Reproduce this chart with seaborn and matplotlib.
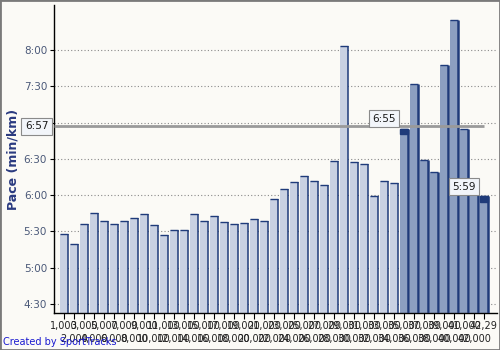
import numpy as np
import pandas as pd
import matplotlib
matplotlib.use("Agg")
import matplotlib.pyplot as plt
import seaborn as sns
from matplotlib.ticker import FuncFormatter, FixedLocator
from matplotlib.patches import Rectangle

# ---- data ----
split_labels = ["1,000", "2,000", "3,000", "4,000", "5,000", "6,000", "7,000", "8,000",
                "9,000", "10,000", "11,000", "12,000", "13,000", "14,000", "15,000",
                "16,000", "17,000", "18,000", "19,000", "20,000", "21,000", "22,000",
                "23,000", "24,000", "25,000", "26,000", "27,000", "28,000", "29,000",
                "30,000", "31,000", "32,000", "33,000", "34,000", "35,000", "36,000",
                "37,000", "38,000", "39,000", "40,000", "41,000", "42,000", "42,29"]
pace_text = ["5:28", "5:20", "5:36", "5:45", "5:39", "5:36", "5:39", "5:41", "5:44",
             "5:35", "5:27", "5:31", "5:31", "5:44", "5:39", "5:43", "5:38", "5:36",
             "5:37", "5:40", "5:39", "5:57", "6:05", "6:11", "6:16", "6:12", "6:08",
             "6:28", "8:03", "6:27", "6:26", "5:59", "6:12", "6:10", "6:55", "7:32",
             "6:29", "6:19", "7:48", "8:25", "6:55", "6:02", "5:59"]
segment = ["normal"] * 34 + ["selected"] * 9
y_tick_text = ["4:30", "5:00", "5:30", "6:00", "6:30", "7:00", "7:30", "8:00"]
avg_text = "6:57"
callout_bars = [34, 42]          # bars carrying a pace call-out
marked_bars = [34, 42]           # bars with a dark cap


def to_min(s):
    m, sec = s.split(":")
    return int(m) + int(sec) / 60.0


def fmt(v, pos=None):
    total = int(round(v * 60))
    return f"{total // 60}:{total % 60:02d}"


pace = [to_min(s) for s in pace_text]
avg_pace = to_min(avg_text)
df = pd.DataFrame({"split": split_labels, "pace": pace, "segment": segment})

# ---- figure ----
sns.set_theme(style="white")
plt.rcParams["font.family"] = ["DejaVu Sans"]
bg = "#fbfaf6"
fig = plt.figure(figsize=(5, 3.5), dpi=100, facecolor=bg)
ax = fig.add_axes([0.108, 0.1057, 0.886, 0.88])
ax.set_facecolor(bg)

sns.barplot(data=df, x="split", y="pace", hue="segment", order=split_labels,
            palette={"normal": "#c9d1e2", "selected": "#8c9fc1"}, dodge=False,
            width=0.75, saturation=1, linewidth=0, legend=False, ax=ax, zorder=2)

ymin, ymax = 4.376, 8.62
ax.set_ylim(ymin, ymax)
ax.set_xlim(-1.0, len(split_labels) + 0.3)

edge = "#1f3b7a"
bars = sorted([p for p in ax.patches if np.isfinite(p.get_height()) and p.get_height() > 0],
              key=lambda p: p.get_x())
for i, p in enumerate(bars):
    x0 = p.get_x()
    x1 = x0 + p.get_width()
    top = p.get_y() + p.get_height()
    sel = segment[i] == "selected"
    ax.plot([x0, x1], [top, top], color=edge, lw=1.0, zorder=3, solid_capstyle="butt")
    ax.plot([x1, x1], [ymin, top], color=edge, lw=1.8 if sel else 1.1, zorder=3,
            solid_capstyle="butt")
    if i in marked_bars:
        ax.add_patch(Rectangle((x0, top - 0.075), p.get_width(), 0.075,
                               color=edge, zorder=3))

# average line
ax.hlines(avg_pace, -1.0, len(split_labels) - 1, color="#9a9a9a", lw=2, zorder=4)

box = dict(boxstyle="square,pad=0.35", fc="#f2f5fa", ec="#8a8a8a", lw=0.8)
ax.annotate(avg_text, xy=(0, avg_pace), xycoords=("axes fraction", "data"),
            xytext=(-4, 0), textcoords="offset points", ha="right", va="center",
            fontsize=7.5, color="#1a1a1a", bbox=box, zorder=6, annotation_clip=False)
for b in callout_bars:
    ax.annotate(pace_text[b], xy=(b - 2, pace[b] + 0.135), ha="center", va="center",
                fontsize=7.5, color="#1a1a1a", bbox=box, zorder=6)

# axes styling
ax.yaxis.set_major_locator(FixedLocator([to_min(t) for t in y_tick_text]))
ax.yaxis.set_major_formatter(FuncFormatter(fmt))
ax.yaxis.grid(True, linestyle=(0, (1, 2)), color="#8a8a8a", lw=0.8, zorder=1)
ax.xaxis.grid(False)
ax.set_axisbelow(True)
for s in ["top", "right"]:
    ax.spines[s].set_visible(False)
for s in ["left", "bottom"]:
    ax.spines[s].set_color("#000000")
    ax.spines[s].set_linewidth(1.0)

ax.set_xticks(range(len(split_labels)))
ax.set_xticklabels([lab if i % 2 == 0 else "\n" + lab for i, lab in enumerate(split_labels)],
                   fontsize=7, color="#222222", linespacing=1.3)
ax.tick_params(axis="x", length=4, width=0.8, color="#000000", pad=2, bottom=True)
ax.tick_params(axis="y", length=3, width=0.8, color="#000000", labelsize=7.5,
               labelcolor="#4a5878", pad=2, left=True)

ax.set_xlabel("")
ax.set_ylabel("Pace (min/km)", fontsize=9, fontweight="bold", color="#2a3a80")
ax.yaxis.set_label_coords(-0.078, 0.5)

fig.text(0.006, 1 - 342 / 350, "Created by SportTracks", color="#1a1ad0", fontsize=7,
         va="center", ha="left")
fig.add_artist(Rectangle((0, 0), 1, 1, transform=fig.transFigure, fill=False,
                         ec="#7a7a7a", lw=2))

fig.savefig("out.png", dpi=100, facecolor=bg)
